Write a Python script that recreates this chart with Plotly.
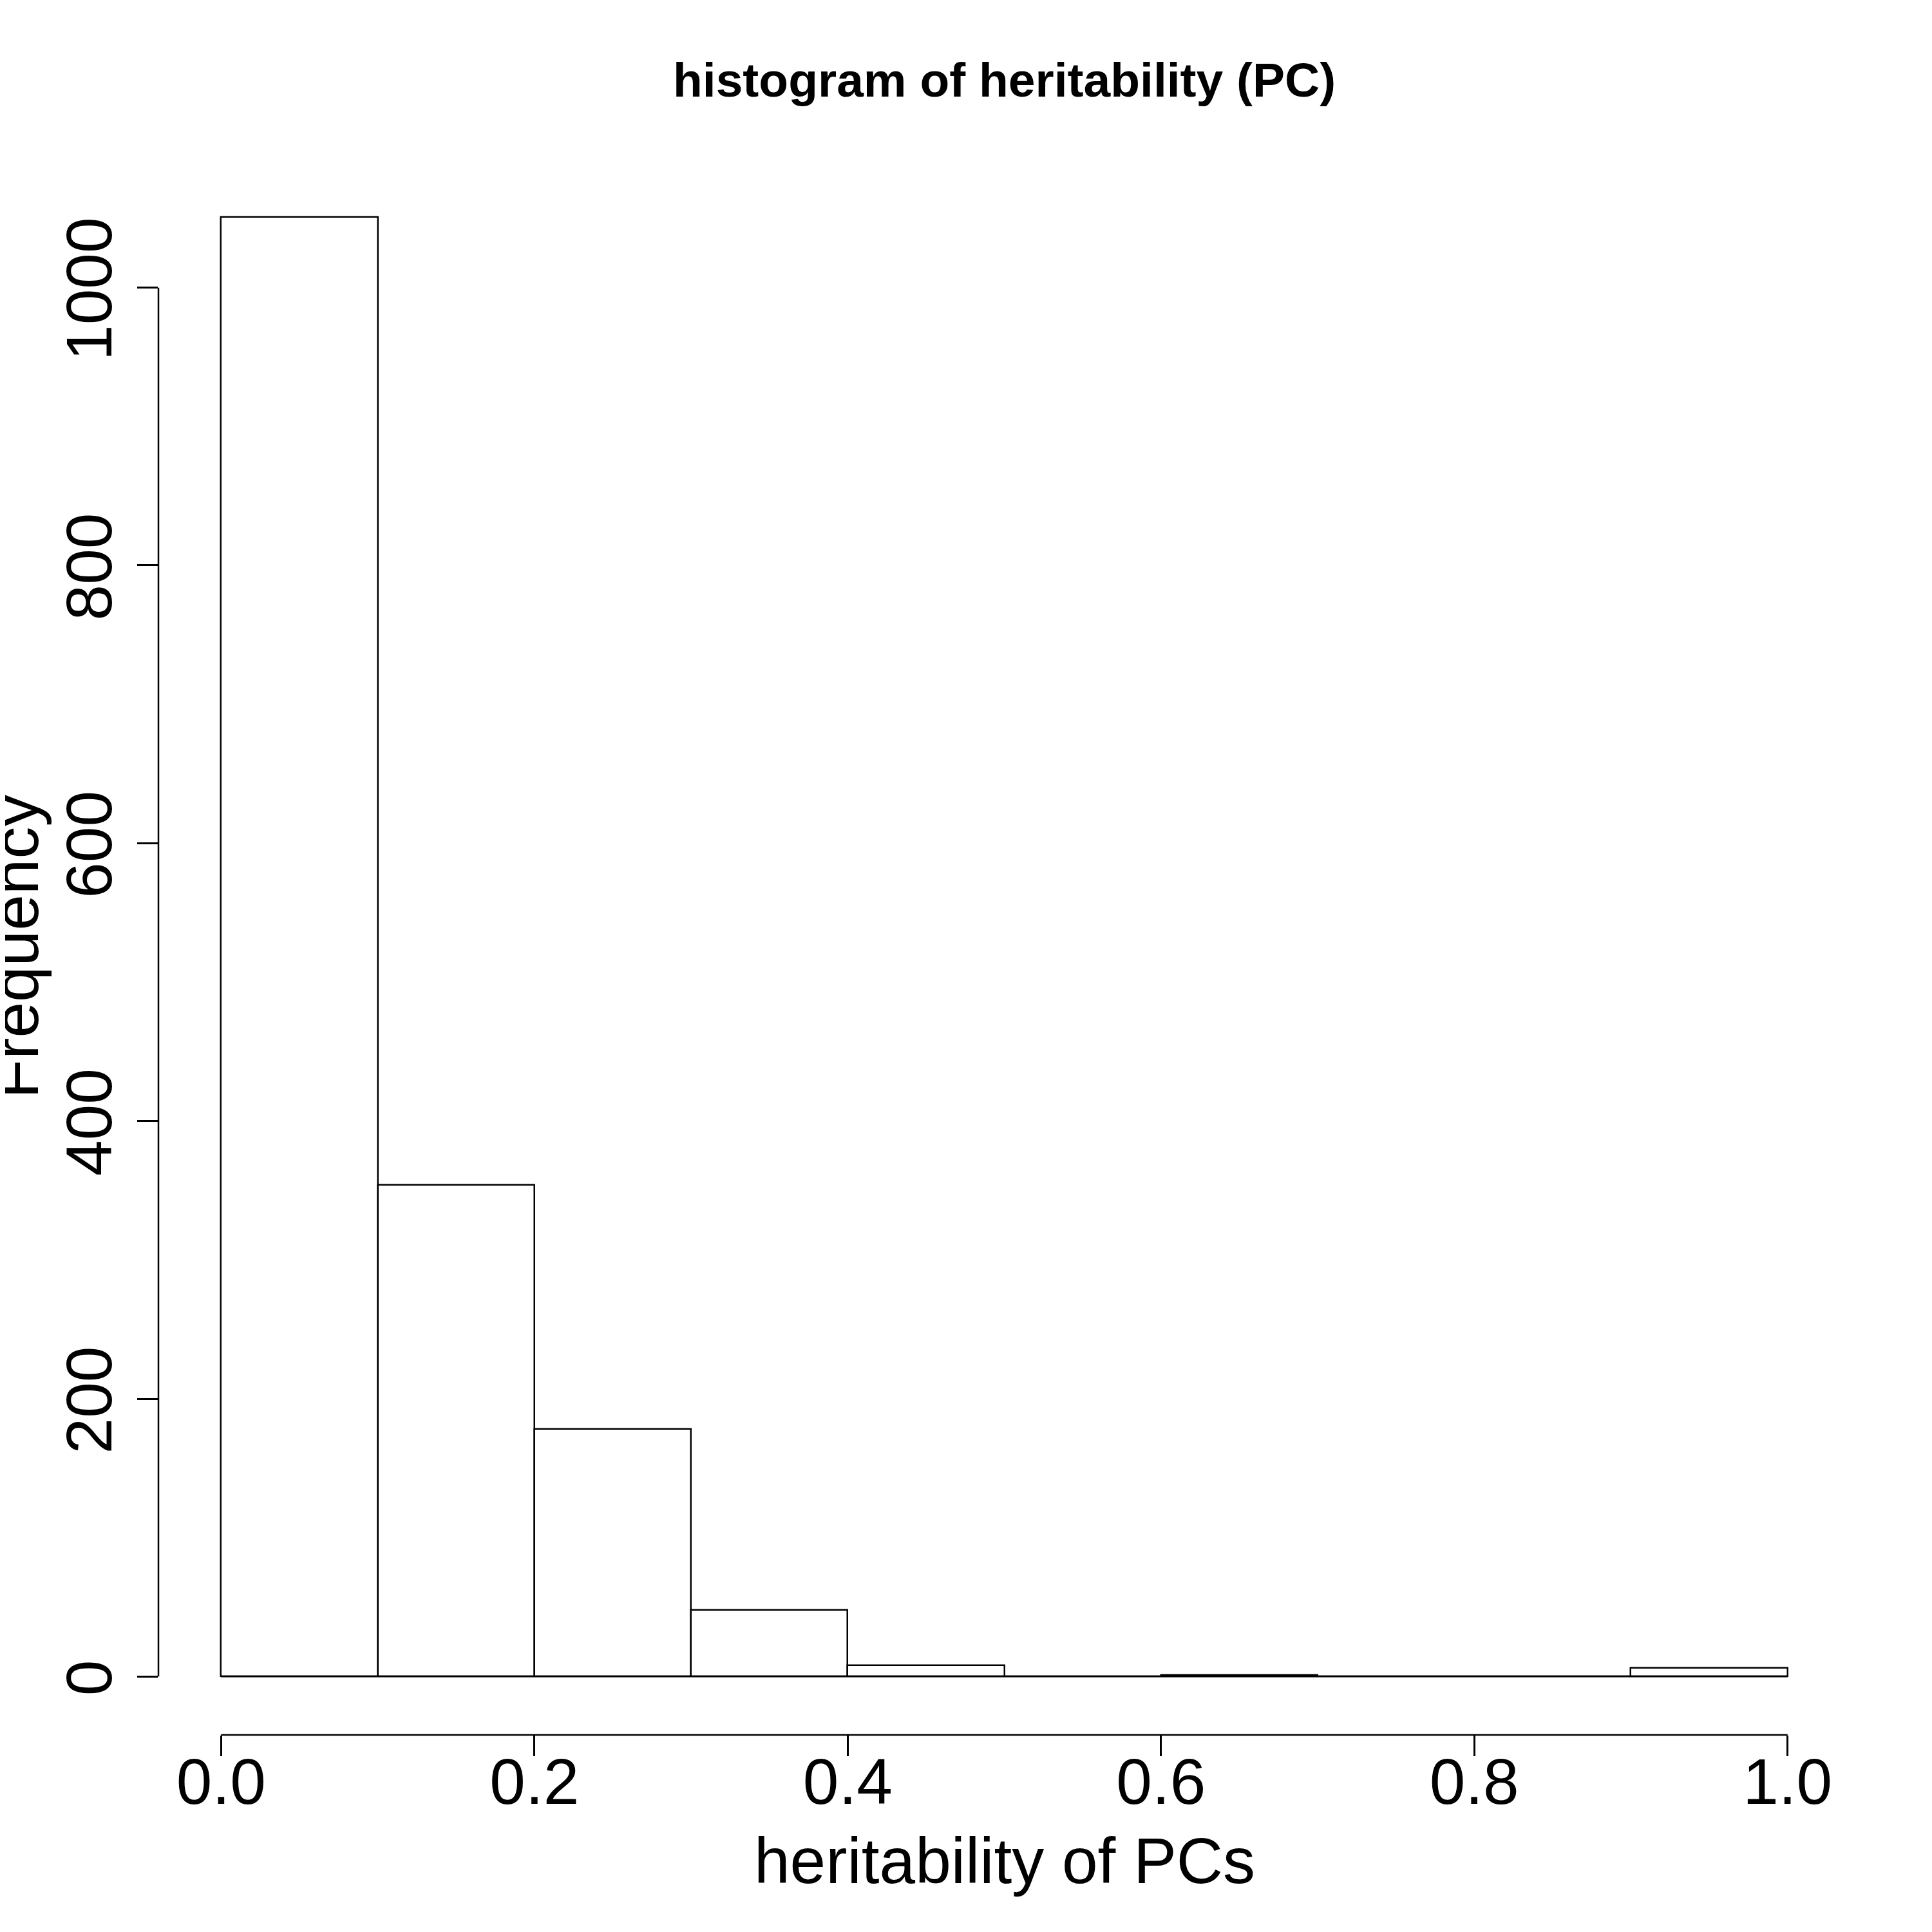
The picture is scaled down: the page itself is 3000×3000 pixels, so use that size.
import plotly.graph_objects as go

# histogram counts (R style hist)
bin_edges = [0.0, 0.1, 0.2, 0.3, 0.4, 0.5, 0.6, 0.7, 0.8, 0.9, 1.0]
counts = [1051, 354, 178, 48, 8, 0, 1, 0, 0, 6]
x_ticks = [0.0, 0.2, 0.4, 0.6, 0.8, 1.0]
x_labels = ["0.0", "0.2", "0.4", "0.6", "0.8", "1.0"]
y_ticks = [0, 200, 400, 600, 800, 1000]

title_text = "histogram of heritability (PC)"
x_title = "heritability of PCs"
y_title = "Frequency"

mids = [(a + b) / 2 for a, b in zip(bin_edges[:-1], bin_edges[1:])]
widths = [b - a for a, b in zip(bin_edges[:-1], bin_edges[1:])]

FONT = "Liberation Sans, Arial, Helvetica, sans-serif"
LW = 2.5

fig = go.Figure()
fig.add_trace(go.Bar(
    x=mids, y=counts, width=widths,
    marker=dict(color="white", line=dict(color="black", width=LW)),
    showlegend=False,
))

# R extends ranges by 4%
xr = [bin_edges[0] - 0.04 * (bin_edges[-1] - bin_edges[0]),
      bin_edges[-1] + 0.04 * (bin_edges[-1] - bin_edges[0])]
ymax = max(counts)
yr = [-0.04 * ymax, 1.04 * ymax]

shapes = [
    # baseline under empty bins
    dict(type="line", xref="x", yref="y", x0=bin_edges[0], x1=bin_edges[-1], y0=0, y1=0,
         line=dict(color="black", width=LW)),
    # axis lines only between first and last tick, like R
    dict(type="line", xref="x", yref="paper", x0=x_ticks[0], x1=x_ticks[-1], y0=0, y1=0,
         line=dict(color="black", width=LW)),
    dict(type="line", xref="paper", yref="y", x0=0, x1=0, y0=y_ticks[0], y1=y_ticks[-1],
         line=dict(color="black", width=LW)),
]

annotations = [
    dict(text="<b>" + title_text + "</b>", xref="paper", yref="paper", x=0.5, y=1,
         xanchor="center", yanchor="middle", yshift=122, showarrow=False,
         font=dict(family=FONT, size=75, color="black")),
    dict(text=x_title, xref="paper", yref="paper", x=0.5, y=0,
         xanchor="center", yanchor="middle", yshift=-195, showarrow=False,
         font=dict(family=FONT, size=100, color="black")),
    dict(text=y_title, xref="paper", yref="paper", x=0, y=0.5, textangle=-90,
         xanchor="center", yanchor="middle", xshift=-222, showarrow=False,
         font=dict(family=FONT, size=100, color="black")),
]

fig.update_layout(
    width=3000, height=3000,
    margin=dict(l=238, r=135, t=238, b=314, pad=0),
    plot_bgcolor="white", paper_bgcolor="white",
    bargap=0,
    shapes=shapes,
    annotations=annotations,
    xaxis=dict(range=xr, tickvals=x_ticks, ticktext=x_labels, ticks="outside",
               ticklen=32, tickwidth=LW, tickcolor="black", showline=False,
               showgrid=False, zeroline=False, ticklabelstandoff=-46,
               tickfont=dict(family=FONT, size=100, color="black")),
    yaxis=dict(range=yr, tickvals=y_ticks, ticks="outside", tickangle=-90,
               ticklen=32, tickwidth=LW, tickcolor="black", showline=False,
               showgrid=False, zeroline=False, ticklabelshift=17,
               tickfont=dict(family=FONT, size=100, color="black")),
)

fig.write_html("out.html")
